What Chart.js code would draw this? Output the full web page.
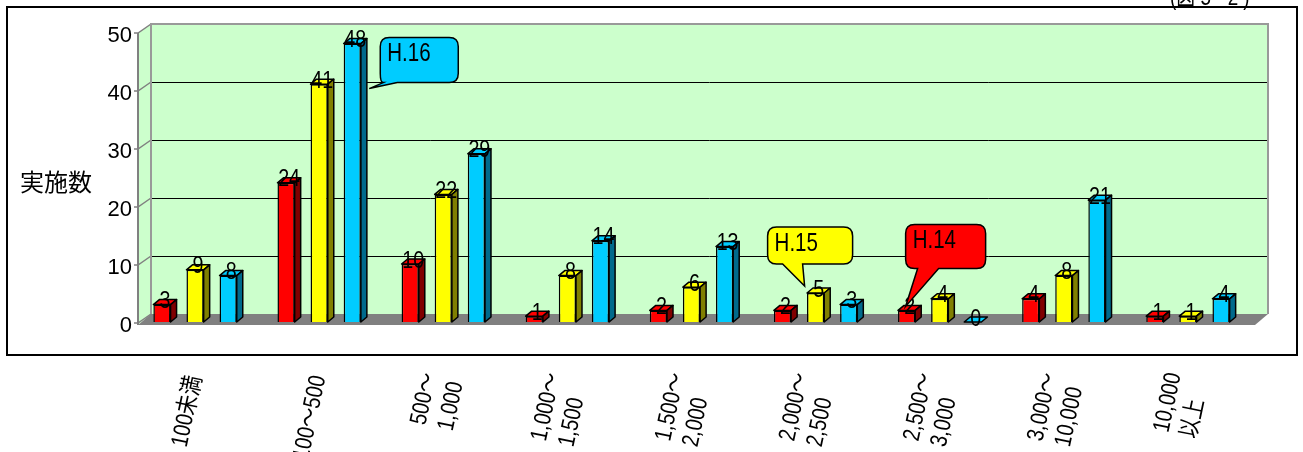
<!DOCTYPE html>
<html>
<head>
<meta charset="utf-8">
<script src="https://cdn.jsdelivr.net/npm/chart.js@4.4.1/dist/chart.umd.min.js"></script>
<style>
  html, body { margin: 0; padding: 0; background: #fff; }
</style>
</head>
<body>
<canvas id="chart" width="1303" height="452"></canvas>
<script>
// data
var categories = [["100未満"], ["100～500"], ["500～", "1,000"], ["1,000～", "1,500"], ["1,500～", "2,000"],
                  ["2,000～", "2,500"], ["2,500～", "3,000"], ["3,000～", "10,000"], ["10,000", "以上"]];
var seriesNames = ["H.14", "H.15", "H.16"];
var h14 = [3, 24, 10, 1, 2, 2, 2, 4, 1];
var h15 = [9, 41, 22, 8, 6, 5, 4, 8, 1];
var h16 = [8, 48, 29, 14, 13, 3, 0, 21, 4];
var yTicks = [0, 10, 20, 30, 40, 50];
var yTitle = "実施数";
var figLabel = "(図 5 - 2 )";

var FONT = "'Liberation Sans', 'Noto Sans CJK JP', sans-serif";
var NARROW = 0.82; // squeeze text the way the original narrow face looks
var fronts = ["#ff0000", "#ffff00", "#00ccff"];
var sides = ["#800000", "#808000", "#006a8c"];

// callouts point at one bar each (dataset, index); offsets from the bar's top centre
var callouts = [
    { text: seriesNames[2], ds: 2, idx: 1, fill: "#00ccff", tip: [17, 45], box: [28, -6, 78, 45], base: [3, 17] },
    { text: seriesNames[1], ds: 1, idx: 5, fill: "#ffff00", tip: [-11, -7], box: [-48, -66, 85, 37], base: [15, 35] },
    { text: seriesNames[0], ds: 0, idx: 6, fill: "#ff0000", tip: [-1, -4], box: [-1, -86, 80, 44], base: [12, 33] }
];

function narrowText(ctx, text, x, y) {
    ctx.save();
    ctx.translate(x, y);
    ctx.scale(NARROW, 1);
    ctx.fillText(text, 0, 0);
    ctx.restore();
}

var scene = {
    id: "scene",
    beforeDraw: function (chart) {
        var ctx = chart.ctx, a = chart.chartArea, y = chart.scales.y;
        var fl = a.left + 5, fr = a.right + 5, bl = a.left + 18, br = a.right + 18;
        var top = y.getPixelForValue(50), bot = y.getPixelForValue(0);
        ctx.save();
        ctx.fillStyle = "#fff";
        ctx.fillRect(0, 0, chart.width, chart.height);

        // walls
        ctx.fillStyle = "#ccffcc";
        ctx.beginPath();
        ctx.moveTo(fl, top + 1); ctx.lineTo(bl, top - 8); ctx.lineTo(bl, bot - 8); ctx.lineTo(fl, bot + 3);
        ctx.closePath(); ctx.fill();
        ctx.fillRect(bl, top - 8, br - bl, bot - top);

        // grid on back wall + diagonals on side wall
        yTicks.forEach(function (v) {
            var p = y.getPixelForValue(v);
            if (v > 0 && v < 50) {
                ctx.strokeStyle = "#000"; ctx.lineWidth = 1;
                ctx.beginPath(); ctx.moveTo(bl, Math.round(p - 8) + 0.5); ctx.lineTo(br, Math.round(p - 8) + 0.5); ctx.stroke();
            }
            ctx.strokeStyle = "#808080"; ctx.lineWidth = 1.5;
            ctx.beginPath(); ctx.moveTo(fl - 4, p + 1); ctx.lineTo(fl, p + 1); ctx.lineTo(bl, p - 8); ctx.stroke();
        });

        // back wall border
        ctx.strokeStyle = "#999"; ctx.lineWidth = 2;
        ctx.beginPath();
        ctx.moveTo(bl, bot - 8); ctx.lineTo(bl, top - 8); ctx.lineTo(br, top - 8); ctx.lineTo(br, bot - 8);
        ctx.stroke();

        // floor
        ctx.fillStyle = "#808080";
        ctx.beginPath();
        ctx.moveTo(fl, bot + 3); ctx.lineTo(fr, bot + 3); ctx.lineTo(br, bot - 8); ctx.lineTo(bl, bot - 8);
        ctx.closePath(); ctx.fill();

        // front axis
        ctx.strokeStyle = "#808080"; ctx.lineWidth = 2;
        ctx.beginPath(); ctx.moveTo(fl, top + 1); ctx.lineTo(fl, bot + 3); ctx.stroke();
        ctx.restore();
    },
    afterDatasetsDraw: function (chart) {
        var ctx = chart.ctx, bx = 6, by = 5;
        ctx.save();
        ctx.lineWidth = 1.5; ctx.strokeStyle = "#000"; ctx.lineJoin = "round";
        chart.data.datasets.forEach(function (ds, d) {
            chart.getDatasetMeta(d).data.forEach(function (bar, i) {
                var l = bar.x - bar.width / 2, r = bar.x + bar.width / 2, t = bar.y, b = bar.base;
                ctx.fillStyle = fronts[d];
                ctx.beginPath();
                ctx.moveTo(l, t); ctx.lineTo(l + bx, t - by); ctx.lineTo(r + bx, t - by); ctx.lineTo(r, t);
                ctx.closePath(); ctx.fill(); ctx.stroke();
                if (b - t > 0.5) {
                    ctx.fillStyle = sides[d];
                    ctx.beginPath();
                    ctx.moveTo(r, t); ctx.lineTo(r + bx, t - by); ctx.lineTo(r + bx, b - by); ctx.lineTo(r, b);
                    ctx.closePath(); ctx.fill(); ctx.stroke();
                }
            });
        });
        // value labels
        ctx.fillStyle = "#000";
        ctx.font = "24px " + FONT;
        ctx.textAlign = "center"; ctx.textBaseline = "middle";
        chart.data.datasets.forEach(function (ds, d) {
            chart.getDatasetMeta(d).data.forEach(function (bar, i) {
                narrowText(ctx, String(ds.data[i]), bar.x + 3, bar.y - 3);
            });
        });
        ctx.restore();
    },
    afterDraw: function (chart) {
        var ctx = chart.ctx, xs = chart.scales.x;
        ctx.save();

        // callouts
        callouts.forEach(function (c) {
            var bar = chart.getDatasetMeta(c.ds).data[c.idx];
            var ax = bar.x, ay = bar.y;
            var tx = ax + c.tip[0], ty = ay + c.tip[1];
            var x0 = ax + c.box[0], y0 = ay + c.box[1], w = c.box[2], h = c.box[3], rr = 9;
            ctx.fillStyle = c.fill; ctx.strokeStyle = "#000"; ctx.lineWidth = 1.5;
            ctx.beginPath();
            ctx.moveTo(x0 + rr, y0);
            ctx.lineTo(x0 + w - rr, y0); ctx.quadraticCurveTo(x0 + w, y0, x0 + w, y0 + rr);
            ctx.lineTo(x0 + w, y0 + h - rr); ctx.quadraticCurveTo(x0 + w, y0 + h, x0 + w - rr, y0 + h);
            ctx.lineTo(x0 + c.base[1], y0 + h);
            ctx.lineTo(tx, ty);
            ctx.lineTo(x0 + c.base[0], y0 + h);
            if (c.base[0] > rr) ctx.lineTo(x0 + rr, y0 + h);
            ctx.quadraticCurveTo(x0, y0 + h, x0, y0 + h - rr);
            ctx.lineTo(x0, y0 + rr); ctx.quadraticCurveTo(x0, y0, x0 + rr, y0);
            ctx.closePath(); ctx.fill(); ctx.stroke();
            ctx.fillStyle = "#000";
            ctx.font = "25px " + FONT;
            ctx.textAlign = "left"; ctx.textBaseline = "middle";
            narrowText(ctx, c.text, x0 + 7, y0 + 17);
        });

        // category labels, rotated
        ctx.fillStyle = "#000";
        ctx.font = "24px " + FONT;
        ctx.textAlign = "left"; ctx.textBaseline = "middle";
        categories.forEach(function (lines, i) {
            var px = xs.getPixelForTick(i);
            var w = Math.max.apply(null, lines.map(function (s) { return ctx.measureText(s).width; }));
            ctx.save();
            ctx.translate(px, 376);
            ctx.rotate(-78 * Math.PI / 180);
            ctx.scale(NARROW, 1);
            lines.forEach(function (s, k) {
                ctx.fillText(s, -w, (k - (lines.length - 1) / 2) * 28);
            });
            ctx.restore();
        });

        // axis title
        ctx.font = "24px 'Noto Sans CJK JP', sans-serif";
        ctx.textAlign = "left"; ctx.textBaseline = "middle";
        ctx.fillText(yTitle, 20, 182);

        // figure number (cut by top edge)
        ctx.font = "23px " + FONT;
        ctx.textBaseline = "alphabetic";
        narrowText(ctx, figLabel, 1170, 5);

        // outer frame
        ctx.strokeStyle = "#000"; ctx.lineWidth = 2;
        ctx.strokeRect(7, 7, 1290, 348);
        ctx.restore();
    }
};

var ctx = document.getElementById("chart");
var chart = new Chart(ctx, {
    type: "bar",
    data: {
        labels: categories,
        datasets: [
            { label: seriesNames[0], data: h14, backgroundColor: fronts[0], borderColor: "#000", borderWidth: 1.5 },
            { label: seriesNames[1], data: h15, backgroundColor: fronts[1], borderColor: "#000", borderWidth: 1.5 },
            { label: seriesNames[2], data: h16, backgroundColor: fronts[2], borderColor: "#000", borderWidth: 1.5 }
        ]
    },
    options: {
        responsive: false,
        animation: false,
        devicePixelRatio: 1,
        categoryPercentage: 0.8,
        barPercentage: 0.52,
        layout: { padding: { left: 0, right: 53, top: 32, bottom: 0 } },
        plugins: {
            legend: { display: false },
            tooltip: { enabled: false }
        },
        scales: {
            x: {
                grid: { display: false },
                border: { display: false },
                ticks: { display: false },
                afterFit: function (s) { s.height = 130; }
            },
            y: {
                min: 0,
                max: 50,
                grid: { display: false, drawTicks: false },
                border: { display: false },
                ticks: {
                    stepSize: 10,
                    padding: 1,
                    labelOffset: 4,
                    color: "#000",
                    font: { family: FONT, size: 22 }
                },
                afterFit: function (s) { s.width = 133; }
            }
        }
    },
    plugins: [scene]
});
</script>
</body>
</html>
